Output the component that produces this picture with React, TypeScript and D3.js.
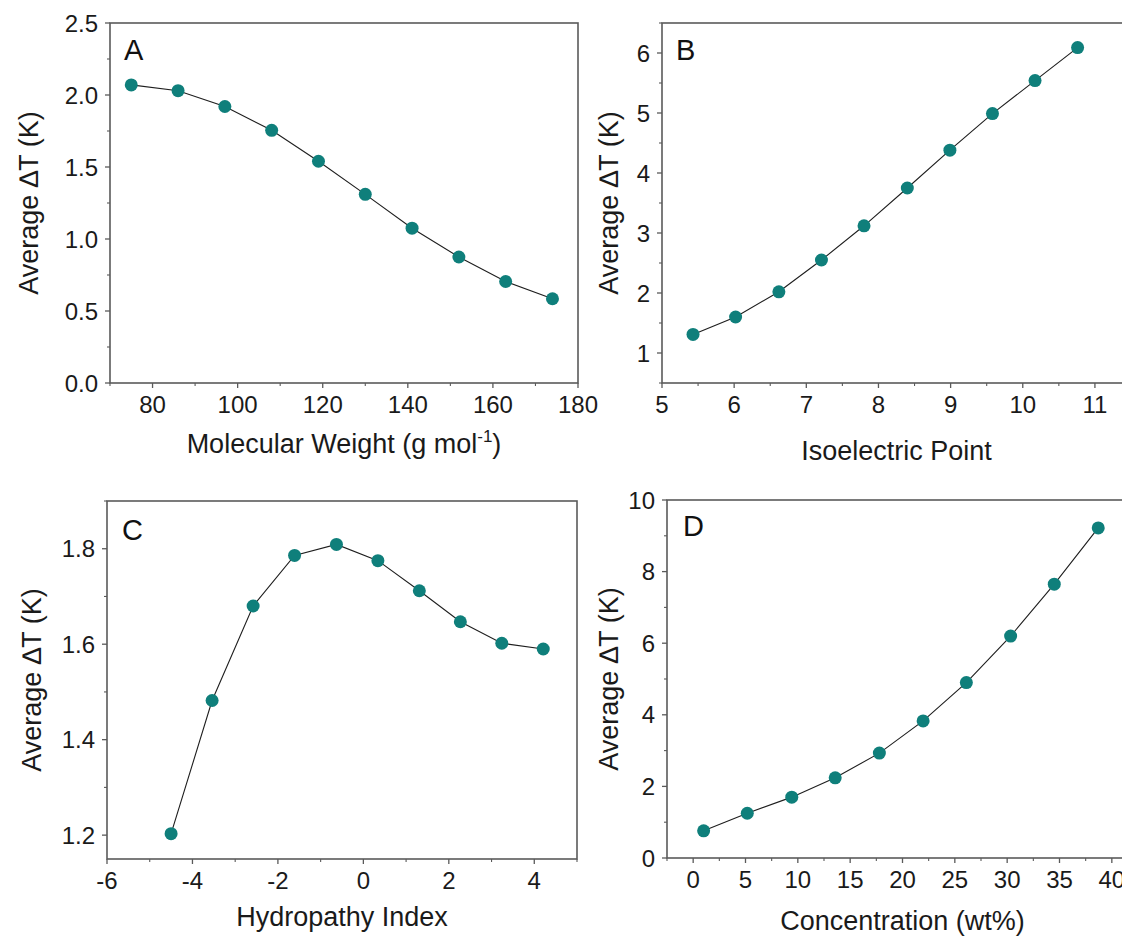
import React from "react";
import * as d3 from "d3";

// Panel A: molecular weight
const mwX = [75, 86, 97, 108, 119, 130, 141, 152, 163, 174];
const mwY = [2.07, 2.03, 1.92, 1.755, 1.54, 1.31, 1.075, 0.875, 0.705, 0.585];
const mwXTicks = [80, 100, 120, 140, 160, 180];
const mwYTicks = [0, 0.5, 1.0, 1.5, 2.0, 2.5];

// Panel B: isoelectric point
const piX = [5.43, 6.02, 6.62, 7.21, 7.8, 8.4, 8.99, 9.58, 10.17, 10.76];
const piY = [1.31, 1.6, 2.02, 2.55, 3.12, 3.75, 4.38, 4.99, 5.54, 6.09];
const piXTicks = [5, 6, 7, 8, 9, 10, 11];
const piYTicks = [1, 2, 3, 4, 5, 6];

// Panel C: hydropathy index
const hiX = [-4.5, -3.54, -2.58, -1.61, -0.63, 0.34, 1.31, 2.27, 3.24, 4.21];
const hiY = [1.203, 1.482, 1.68, 1.786, 1.809, 1.775, 1.712, 1.647, 1.602, 1.59];
const hiXTicks = [-6, -4, -2, 0, 2, 4];
const hiYTicks = [1.2, 1.4, 1.6, 1.8];

// Panel D: concentration
const cX = [1.0, 5.17, 9.42, 13.57, 17.79, 21.97, 26.1, 30.33, 34.5, 38.7];
const cY = [0.76, 1.25, 1.7, 2.24, 2.93, 3.83, 4.9, 6.2, 7.65, 9.22];
const cXTicks = [0, 5, 10, 15, 20, 25, 30, 35, 40];
const cYTicks = [0, 2, 4, 6, 8, 10];

const FONT = "'Liberation Sans', Arial, sans-serif";
const TEAL = "#0f7f7b";
const FRAME = "#5a5a5a";
const TICK_FS = 24;
const TITLE_FS = 27;

type PanelProps = {
  letter: string;
  box: { x0: number; x1: number; y0: number; y1: number };
  xDomain: [number, number];
  yDomain: [number, number];
  xTicks: number[];
  yTicks: number[];
  xMinorStep: number;
  yMinorStep: number;
  xFmt: (v: number) => string;
  yFmt: (v: number) => string;
  xs: number[];
  ys: number[];
  xTitle: React.ReactNode;
  xTitleY: number;
  yTitleX: number;
  letterDx: number;
  letterY: number;
};

function minorTicks(domain: [number, number], step: number, majors: number[]) {
  const out: number[] = [];
  const start = Math.ceil(domain[0] / step - 1e-9) * step;
  for (let v = start; v <= domain[1] + 1e-9; v += step) {
    const r = Math.round(v * 1000) / 1000;
    if (!majors.some((m) => Math.abs(m - r) < 1e-6)) out.push(r);
  }
  return out;
}

function Panel(p: PanelProps) {
  const { x0, x1, y0, y1 } = p.box;
  const x = d3.scaleLinear().domain(p.xDomain).range([x0, x1]);
  const y = d3.scaleLinear().domain(p.yDomain).range([y1, y0]);
  const pts = p.xs.map((v, i) => [v, p.ys[i]] as [number, number]);
  const line = d3
    .line<[number, number]>()
    .x((d) => x(d[0]))
    .y((d) => y(d[1]));
  const xMinor = minorTicks(p.xDomain, p.xMinorStep, p.xTicks);
  const yMinor = minorTicks(p.yDomain, p.yMinorStep, p.yTicks);
  const majorLen = 5;
  const minorLen = 3;
  return (
    <g fontFamily={FONT}>
      {/* ticks along bottom and left */}
      {p.xTicks.map((t) => (
        <g key={"xt" + t}>
          <line x1={x(t)} x2={x(t)} y1={y1} y2={y1 + majorLen} stroke={FRAME} strokeWidth={1.3} />
          <text x={x(t)} y={y1 + 30} textAnchor="middle" fontSize={TICK_FS} fill="#1a1a1a">
            {p.xFmt(t)}
          </text>
        </g>
      ))}
      {xMinor.map((t) => (
        <line key={"xm" + t} x1={x(t)} x2={x(t)} y1={y1} y2={y1 + minorLen} stroke={FRAME} strokeWidth={1.1} />
      ))}
      {p.yTicks.map((t) => (
        <g key={"yt" + t}>
          <line x1={x0 - majorLen} x2={x0} y1={y(t)} y2={y(t)} stroke={FRAME} strokeWidth={1.3} />
          <text x={x0 - 12} y={y(t)} dy="0.36em" textAnchor="end" fontSize={TICK_FS} fill="#1a1a1a">
            {p.yFmt(t)}
          </text>
        </g>
      ))}
      {yMinor.map((t) => (
        <line key={"ym" + t} x1={x0 - minorLen} x2={x0} y1={y(t)} y2={y(t)} stroke={FRAME} strokeWidth={1.1} />
      ))}
      {/* frame */}
      <rect x={x0} y={y0} width={x1 - x0} height={y1 - y0} fill="none" stroke={FRAME} strokeWidth={1.6} />
      {/* data */}
      <path d={line(pts) || ""} fill="none" stroke="#1e1e1e" strokeWidth={1.1} />
      {pts.map((d, i) => (
        <circle key={"pt" + i} cx={x(d[0])} cy={y(d[1])} r={6.5} fill={TEAL} />
      ))}
      {/* labels */}
      <text x={x0 + p.letterDx} y={p.letterY} fontSize={29} fill="#111">
        {p.letter}
      </text>
      <text x={(x0 + x1) / 2} y={p.xTitleY} textAnchor="middle" fontSize={TITLE_FS} fill="#1a1a1a">
        {p.xTitle}
      </text>
      <text
        transform={`translate(${p.yTitleX},${(y0 + y1) / 2}) rotate(-90)`}
        textAnchor="middle"
        dy="0.35em"
        fontSize={TITLE_FS}
        fill="#1a1a1a"
      >
        Average ∆T (K)
      </text>
    </g>
  );
}

const f1 = d3.format(".1f");
const f0 = (v: number) => String(v);

export default function App() {
  return (
    <svg
      width={1122}
      height={939}
      style={{ position: "fixed", left: 0, top: 0, background: "#fff" }}
    >
      <rect width={1122} height={939} fill="#fff" />
      <Panel
        letter="A"
        box={{ x0: 110, x1: 578, y0: 23, y1: 383 }}
        xDomain={[70, 180]}
        yDomain={[0, 2.5]}
        xTicks={mwXTicks}
        yTicks={mwYTicks}
        xMinorStep={10}
        yMinorStep={0.25}
        xFmt={f0}
        yFmt={f1}
        xs={mwX}
        ys={mwY}
        xTitle={
          <>
            Molecular Weight (g mol
            <tspan dy={-11} fontSize={17}>-1</tspan>
            <tspan dy={11}>)</tspan>
          </>
        }
        xTitleY={453}
        yTitleX={29}
        letterDx={14}
        letterY={60}
      />
      <Panel
        letter="B"
        box={{ x0: 662, x1: 1131, y0: 23, y1: 383 }}
        xDomain={[5, 11.5]}
        yDomain={[0.5, 6.5]}
        xTicks={piXTicks}
        yTicks={piYTicks}
        xMinorStep={0.5}
        yMinorStep={0.5}
        xFmt={f0}
        yFmt={f0}
        xs={piX}
        ys={piY}
        xTitle="Isoelectric Point"
        xTitleY={460}
        yTitleX={609}
        letterDx={14}
        letterY={60}
      />
      <Panel
        letter="C"
        box={{ x0: 107, x1: 577, y0: 501, y1: 859 }}
        xDomain={[-6, 5]}
        yDomain={[1.15, 1.9]}
        xTicks={hiXTicks}
        yTicks={hiYTicks}
        xMinorStep={1}
        yMinorStep={0.1}
        xFmt={f0}
        yFmt={f1}
        xs={hiX}
        ys={hiY}
        xTitle="Hydropathy Index"
        xTitleY={926}
        yTitleX={32}
        letterDx={15}
        letterY={540}
      />
      <Panel
        letter="D"
        box={{ x0: 667, x1: 1138, y0: 500, y1: 858 }}
        xDomain={[-2.5, 42.5]}
        yDomain={[0, 10]}
        xTicks={cXTicks}
        yTicks={cYTicks}
        xMinorStep={2.5}
        yMinorStep={1}
        xFmt={f0}
        yFmt={f0}
        xs={cX}
        ys={cY}
        xTitle="Concentration (wt%)"
        xTitleY={930}
        yTitleX={609}
        letterDx={16}
        letterY={536}
      />
    </svg>
  );
}
